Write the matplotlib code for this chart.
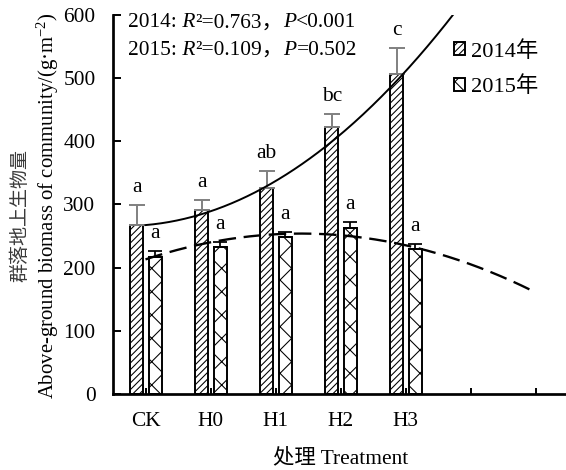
import numpy as np
import matplotlib
matplotlib.use("Agg")
import matplotlib.pyplot as plt
from matplotlib.patches import Patch

# ---- data ----
treatments = ["CK", "H0", "H1", "H2", "H3", "", ""]
biomass_2014 = [268, 291, 326, 423, 506]
err_2014 = [31, 16, 26, 20, 41]
biomass_2015 = [217, 233, 249, 263, 230]
err_2015 = [9, 7, 8, 9, 8]
letters_2014 = ["a", "a", "ab", "bc", "c"]
letters_2015 = ["a", "a", "a", "a", "a"]
year_labels = ["2014年", "2015年"]
fit_stats = [("2014:", "0.763", "<0.001"), ("2015:", "0.109", "=0.502")]
y_ticks = [0, 100, 200, 300, 400, 500, 600]

DPI = 140
W, H = 566, 470
SERIF = ["Liberation Serif", "DejaVu Serif", "Noto Sans CJK SC"]
FS = 11
plt.rcParams["font.family"] = SERIF
plt.rcParams["hatch.linewidth"] = 0.55
plt.rcParams["mathtext.fontset"] = "custom"
plt.rcParams["mathtext.rm"] = "Liberation Serif"
plt.rcParams["mathtext.it"] = "Liberation Serif:italic"

fig = plt.figure(figsize=(W / DPI, H / DPI), dpi=DPI)
left, right, bottom, top = 113, 568, 394, 14.7
ax = fig.add_axes([left / W, 1 - bottom / H, (right - left) / W, (bottom - top) / H])

x = np.arange(len(biomass_2014))
bw = 0.2
off14, off15 = -0.135, 0.15

ax.bar(x + off14, biomass_2014, width=bw, facecolor="white", edgecolor="black",
       linewidth=1.0, hatch="///////", zorder=2)
ax.bar(x + off15, biomass_2015, width=bw, facecolor="white", edgecolor="black",
       linewidth=1.0, hatch="xx", zorder=2)

ax.errorbar(x + off14, biomass_2014, yerr=[np.zeros(len(x)), err_2014], fmt="none",
            ecolor="#808080", elinewidth=1.0, capsize=4.2, capthick=1.0, zorder=3)
ax.errorbar(x + off15, biomass_2015, yerr=[np.zeros(len(x)), err_2015], fmt="none",
            ecolor="black", elinewidth=0.9, capsize=3.8, capthick=0.9, zorder=3)

# significance letters above the error bars
for xi, v, e, s in zip(x + off14, biomass_2014, err_2014, letters_2014):
    ax.annotate(s, (xi, v + e), xytext=(0, 9), textcoords="offset points",
                ha="center", va="center", fontsize=FS)
for xi, v, e, s in zip(x + off15, biomass_2015, err_2015, letters_2015):
    ax.annotate(s, (xi, v + e), xytext=(0, 9), textcoords="offset points",
                ha="center", va="center", fontsize=FS)

# quadratic trend lines of the yearly means
xs = np.linspace(0, 6, 300)
p14 = np.polyfit(x, biomass_2014, 2)
p15 = np.polyfit(x, biomass_2015, 2)
ax.plot(xs, np.polyval(p14, xs), color="black", lw=1.0, zorder=4)
ax.plot(xs, np.polyval(p15, xs), color="black", lw=1.2, dashes=(7.5, 3.3), zorder=4)

ax.set_xlim(-0.5, 6.5)
ax.set_ylim(0, 600)
ax.set_xticks(range(len(treatments)))
ax.set_xticklabels(treatments)
ax.set_yticks(y_ticks)
ax.tick_params(axis="x", direction="in", length=3, width=1.0, pad=9, labelsize=FS)
ax.tick_params(axis="y", direction="in", length=4, width=1.0, pad=9, labelsize=FS)
for s in ("top", "right"):
    ax.spines[s].set_visible(False)
ax.spines["left"].set_linewidth(1.4)
ax.spines["bottom"].set_linewidth(1.4)

# axis titles
fig.text(341 / W, 1 - 458 / H, "处理 Treatment", ha="center", va="center", fontsize=FS)
fig.text(48 / W, 1 - 206 / H, "Above-ground biomass of community/(g·m$^{-2}$)",
         rotation=90, ha="center", va="center", fontsize=10.7,
         family="Liberation Serif")
fig.text(20 / W, 1 - 216 / H, "群落地上生物量", rotation=90, ha="center", va="center",
         fontsize=9.8, family="Noto Sans CJK SC", color="#3a3a3a")

# regression statistics, composed piece by piece (italic R and P)
def stat_line(y_px, year, r2, p):
    t = fig.text(128 / W, 1 - y_px / H, year, va="baseline", fontsize=FS)
    pieces = [(" R", "italic"), ("²=" + r2 + "，", "normal"), ("P", "italic"), (p, "normal")]
    for txt, style in pieces:
        t = fig.add_artist(matplotlib.text.Annotation(
            txt, xy=(1, 0), xycoords=t, va="bottom", ha="left",
            fontsize=FS, style=style, annotation_clip=False))

stat_line(27.3, *fit_stats[0])
stat_line(55.0, *fit_stats[1])

handles = [Patch(facecolor="white", edgecolor="black", hatch="///////", lw=1.0),
           Patch(facecolor="white", edgecolor="black", hatch="xx", lw=1.0)]
fig.legend(handles, year_labels, loc="upper left", bbox_to_anchor=(454 / W, 1 - 41 / H),
           frameon=False, fontsize=11.5, handlelength=0.5, handleheight=0.5,
           handletextpad=0.25, labelspacing=0.65, borderaxespad=0, borderpad=0)

fig.savefig("out.png", dpi=DPI)
